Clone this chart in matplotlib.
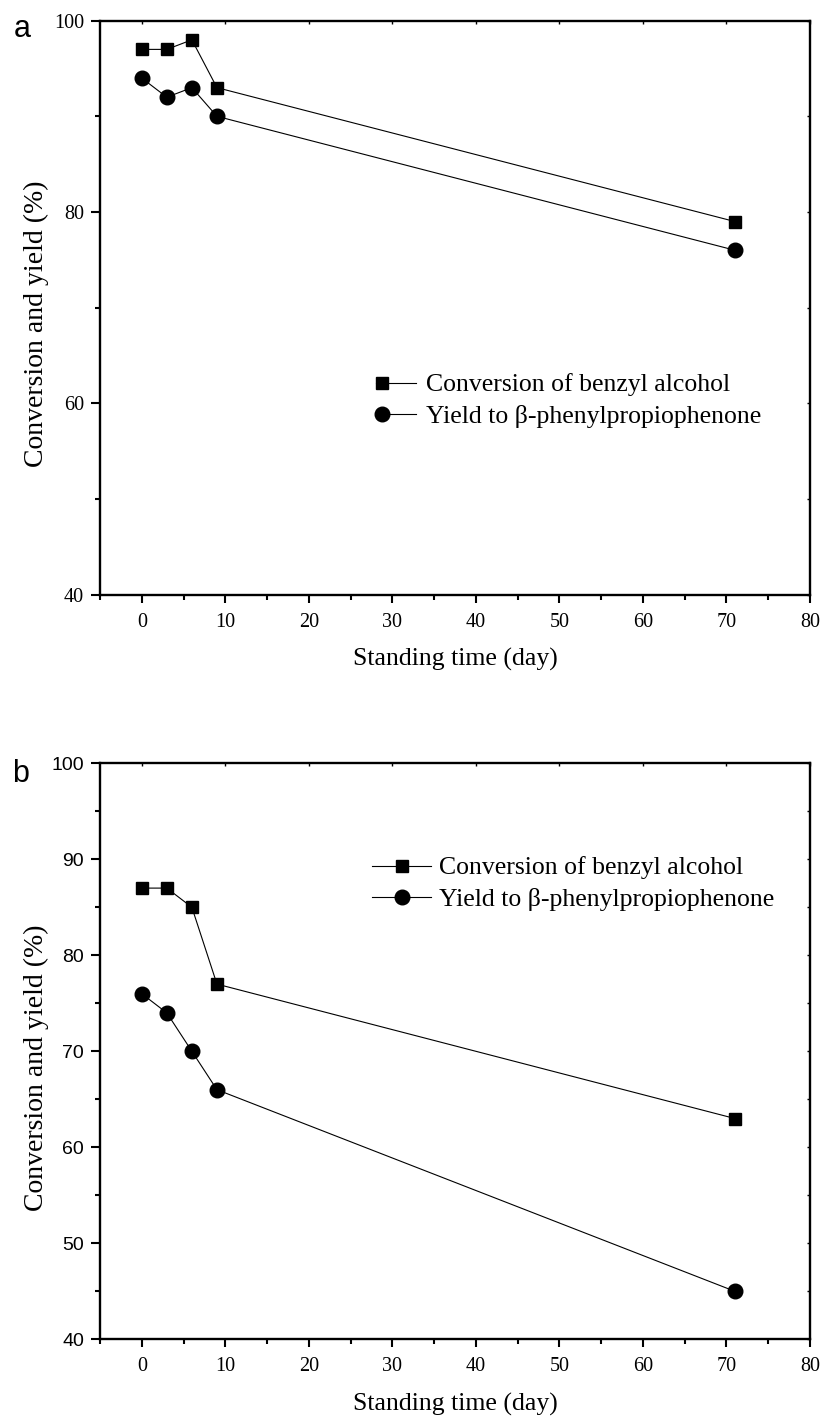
import numpy as np
import matplotlib.pyplot as plt
from matplotlib.legend_handler import HandlerLine2DCompound

plt.rcParams['font.family'] = ['Liberation Serif', 'DejaVu Serif']

# standing time (day)
days = [0, 3, 6, 9, 71]

# panel a
conv_a = [97, 97, 98, 93, 79]
yield_a = [94, 92, 93, 90, 76]

# panel b
conv_b = [87, 87, 85, 77, 63]
yield_b = [76, 74, 70, 66, 45]

lab_conv = "Conversion of benzyl alcohol"
lab_yield = "Yield to \u03b2-phenylpropiophenone"

W, H = 827, 1425
fig = plt.figure(figsize=(W / 100, H / 100), dpi=100)
SANS = ['Liberation Sans', 'DejaVu Sans']


class LeftMarker(HandlerLine2DCompound):
    # legend handle with the marker sitting near the left end of the line
    def get_xdata(self, legend, xdescent, ydescent, width, height, fontsize):
        return [-xdescent, -xdescent + width], [-xdescent + 0.15 * width]


def make_panel(top_px, bot_px, conv, yld, ymajor, yminor, ysans, letter, letter_xy,
               leg_xy, hlen, hpad, left_marker):
    left, right = 100, 810
    ax = fig.add_axes([left / W, 1 - bot_px / H, (right - left) / W, (bot_px - top_px) / H])
    l1, = ax.plot(days, conv, '-', color='black', lw=0.8, marker='s', ms=9, label=lab_conv)
    l2, = ax.plot(days, yld, '-', color='black', lw=0.8, marker='o', ms=10.5, label=lab_yield)
    ax.set_xlim(-5, 80)
    ax.set_ylim(40, 100)
    ax.set_xticks(np.arange(0, 81, 10))
    ax.set_xticks(np.arange(-5, 81, 5), minor=True)
    ax.set_yticks(np.arange(40, 101, ymajor))
    ax.set_yticks(np.arange(40, 101, yminor), minor=True)
    for s in ax.spines.values():
        s.set_linewidth(1.7)
    ax.tick_params(which='major', direction='out', length=6, width=1.5, labelsize=14.5)
    ax.tick_params(axis='x', which='major', length=5.5, pad=7.5)
    ax.tick_params(axis='y', which='major', length=6.5, pad=5)
    ax.tick_params(which='minor', direction='out', length=3.5, width=1.5)
    if ysans:
        for t in ax.get_yticklabels():
            t.set_family(SANS)
            t.set_fontsize(14)
    ax.set_xlabel("Standing time (day)", fontsize=18.5, labelpad=12)
    ax.set_ylabel("Conversion and yield (%)", fontsize=20)
    ax.yaxis.set_label_coords(-0.072, 0.472)

    # short inward ticks on top and right
    axt = ax.twiny()
    axt.set_xlim(ax.get_xlim())
    axt.set_xticks(np.arange(0, 81, 10))
    axt.tick_params(direction='in', length=2.5, width=1, labeltop=False)
    axr = ax.twinx()
    axr.set_ylim(ax.get_ylim())
    axr.set_yticks(np.arange(40, 101, yminor))
    axr.tick_params(direction='in', length=2.5, width=1, labelright=False)
    for s in axt.spines.values():
        s.set_visible(False)
    for s in axr.spines.values():
        s.set_visible(False)

    hmap = {}
    if left_marker:
        hmap = {l1: LeftMarker(numpoints=1), l2: LeftMarker(numpoints=1)}
    ax.legend(handles=[l1, l2], handler_map=hmap,
              loc='center left', bbox_to_anchor=(leg_xy[0] / W, 1 - leg_xy[1] / H),
              bbox_transform=fig.transFigure, frameon=False, fontsize=18.5,
              handlelength=hlen, handletextpad=hpad, labelspacing=0.35,
              borderpad=0, borderaxespad=0)
    fig.text(letter_xy[0] / W, 1 - letter_xy[1] / H, letter, fontsize=22,
             family=SANS, va='baseline', ha='left')
    return ax


make_panel(20.7, 594.5, conv_a, yield_a, 20, 10, False, 'a', (14, 37),
           (376, 401), 1.56, 0.4, True)
make_panel(763.3, 1339.3, conv_b, yield_b, 10, 5, True, 'b', (12, 782),
           (372, 884), 2.3, 0.3, False)

fig.savefig('out.png', dpi=100)
